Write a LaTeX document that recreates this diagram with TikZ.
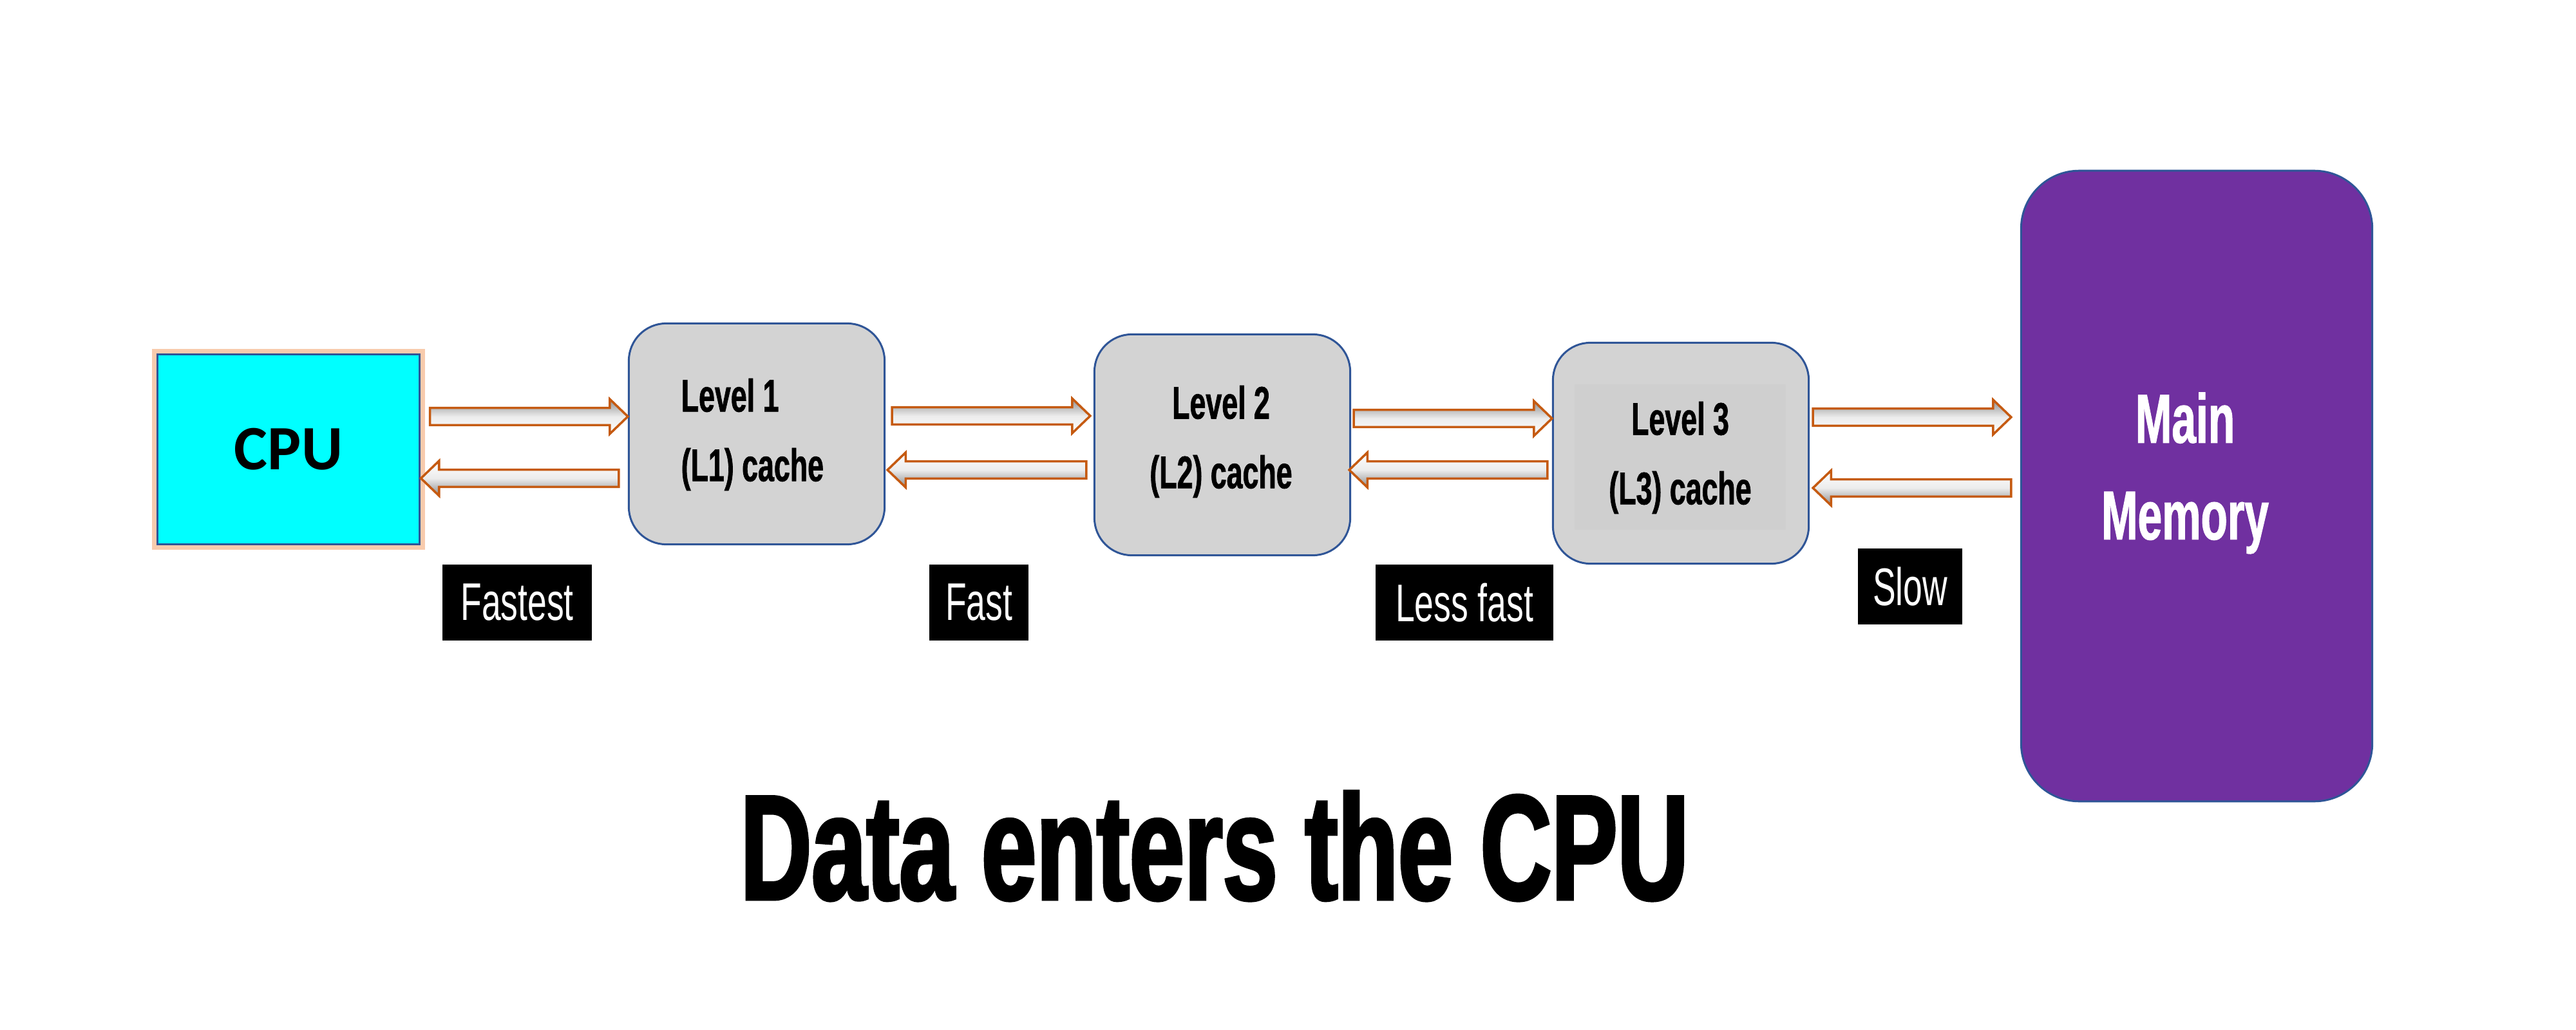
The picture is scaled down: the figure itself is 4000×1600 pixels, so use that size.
\documentclass[tikz,border=0pt]{standalone}
\usepackage{fontspec}
\usetikzlibrary{calc}
\newfontfamily\agencyheavy[FakeStretch=0.63,FakeBold=1]{Liberation Sans Bold}
\newfontfamily\agencylab[FakeStretch=0.65]{Liberation Sans}
\newfontfamily\agencytitle[FakeStretch=0.66,FakeBold=2]{Liberation Sans Bold}
\newfontfamily\carlito{Carlito}
\definecolor{cpucyan}{HTML}{00FFFF}
\definecolor{edgeblue}{HTML}{2F5597}
\definecolor{glow}{HTML}{F8CBAD}
\definecolor{boxgray}{HTML}{D3D3D3}
\definecolor{innergray}{HTML}{CFCFCF}
\definecolor{mempurple}{HTML}{7030A0}
\definecolor{arrowc}{HTML}{C55A11}
\tikzset{
  cpubox/.style={draw=edgeblue, line width=0.85pt, fill=cpucyan,
    minimum width=4.06cm, minimum height=2.94cm, inner sep=0pt,
    preaction={draw=glow, line width=5pt},
    font=\carlito\bfseries\fontsize{27.9}{32}\selectfont},
  cachebox/.style={draw=edgeblue, line width=0.85pt, fill=boxgray,
    rounded corners=0.58cm, minimum width=3.97cm, minimum height=3.43cm,
    inner sep=0pt},
  cachetext/.style={inner sep=0pt, align=center,
    font=\agencyheavy\fontsize{20.2}{30.7}\selectfont},
  membox/.style={draw=edgeblue, line width=0.85pt, fill=mempurple,
    rounded corners=0.9cm, minimum width=5.45cm, minimum height=9.79cm,
    inner sep=0pt},
  memtext/.style={text=white, align=center, inner sep=0pt,
    font=\agencyheavy\fontsize{30.6}{42.7}\selectfont},
  speedlabel/.style={fill=black, text=white, inner sep=0pt,
    minimum height=1.17cm,
    font=\agencylab\fontsize{23.4}{28}\selectfont},
  fatR/.style={draw=arrowc, line width=1pt, line join=miter,
    top color=gray!90, bottom color=white, middle color=white!85!gray},
  fatL/.style={draw=arrowc, line width=1pt, line join=miter,
    top color=white, bottom color=gray!90, middle color=white!85!gray},
  titletext/.style={inner sep=0pt, anchor=base,
    font=\agencytitle\fontsize{66}{70}\selectfont}
}
% #1 tail, #2 tip, #3 shading style
\newcommand\fatarrow[3]{%
  \path[#3] let \p1=(#1), \p2=(#2), \n1={2*(\x2>\x1)-1} in
    ({\x1},{\y1+3.8pt}) -- ({\x2-\n1*8pt},{\y1+3.8pt}) --
    ({\x2-\n1*8pt},{\y1+7.7pt}) -- ({\x2},{\y1}) --
    ({\x2-\n1*8pt},{\y1-7.7pt}) -- ({\x2-\n1*8pt},{\y1-3.8pt}) --
    ({\x1},{\y1-3.8pt}) -- cycle;}
\begin{document}
\begin{tikzpicture}[x=0.01cm,y=-0.01cm]
\useasboundingbox[fill=white] (0,0) rectangle (4000,1600);

% boxes
\node[cpubox] (cpu) at (448,698) {CPU};
\node[cachebox] (l1) at (1175,674) {};
\node[cachebox] (l2) at (1898,691) {};
\node[cachebox] (l3) at (2610,704) {};
\node[fill=innergray, minimum width=3.28cm, minimum height=2.26cm, inner sep=0pt] (l3in) at (2609,710) {};
\node[membox] (mm) at (3411,755) {};

% texts inside the boxes
\node[cachetext, align=left, anchor=west] (l1t) at (1057,675) {Level 1\\(L1) cache};
\node[cachetext] (l2t) at (1896,686) {Level 2\\(L2) cache};
\node[cachetext] (l3t) at (2609,711) {Level 3\\(L3) cache};
\node[memtext] (mmt) at (3393,735) {Main\\Memory};

% arrows
\coordinate (a1rs) at ($(cpu.east)+(15,-51)$);
\coordinate (a1re) at ($(l1.west)+(0,-27)$);
\coordinate (a1ls) at ($(l1.west)+(-14,69)$);
\coordinate (a1le) at ($(cpu.east)+(1,45)$);
\fatarrow{a1rs}{a1re}{fatR}
\fatarrow{a1ls}{a1le}{fatL}

\coordinate (a2rs) at ($(l1.east)+(10,-28)$);
\coordinate (a2re) at ($(l2.west)+(-5,-45)$);
\coordinate (a2ls) at ($(l2.west)+(-11,39)$);
\coordinate (a2le) at ($(l1.east)+(3,56)$);
\fatarrow{a2rs}{a2re}{fatR}
\fatarrow{a2ls}{a2le}{fatL}

\coordinate (a3rs) at ($(l2.east)+(4,-41)$);
\coordinate (a3re) at ($(l3.west)+(0,-54)$);
\coordinate (a3ls) at ($(l3.west)+(-7,26)$);
\coordinate (a3le) at ($(l2.east)+(-3,39)$);
\fatarrow{a3rs}{a3re}{fatR}
\fatarrow{a3ls}{a3le}{fatL}

\coordinate (a4rs) at ($(l3.east)+(5,-56)$);
\coordinate (a4re) at ($(mm.west)+(-14,-107)$);
\coordinate (a4ls) at ($(mm.west)+(-14,3)$);
\coordinate (a4le) at ($(l3.east)+(5,54)$);
\fatarrow{a4rs}{a4re}{fatR}
\fatarrow{a4ls}{a4le}{fatL}

% speed labels
\node[speedlabel, minimum width=2.31cm] (fastest) at (803,936) {Fastest};
\node[speedlabel, minimum width=1.53cm] (fast) at (1520,936) {Fast};
\node[speedlabel, minimum width=2.75cm] (lessfast) at (2274,936) {Less fast};
\node[speedlabel, minimum width=1.61cm] (slow) at (2966,911) {Slow};

% title
\node[titletext] (title) at (1886,1397) {Data enters the CPU};
\end{tikzpicture}
\end{document}
